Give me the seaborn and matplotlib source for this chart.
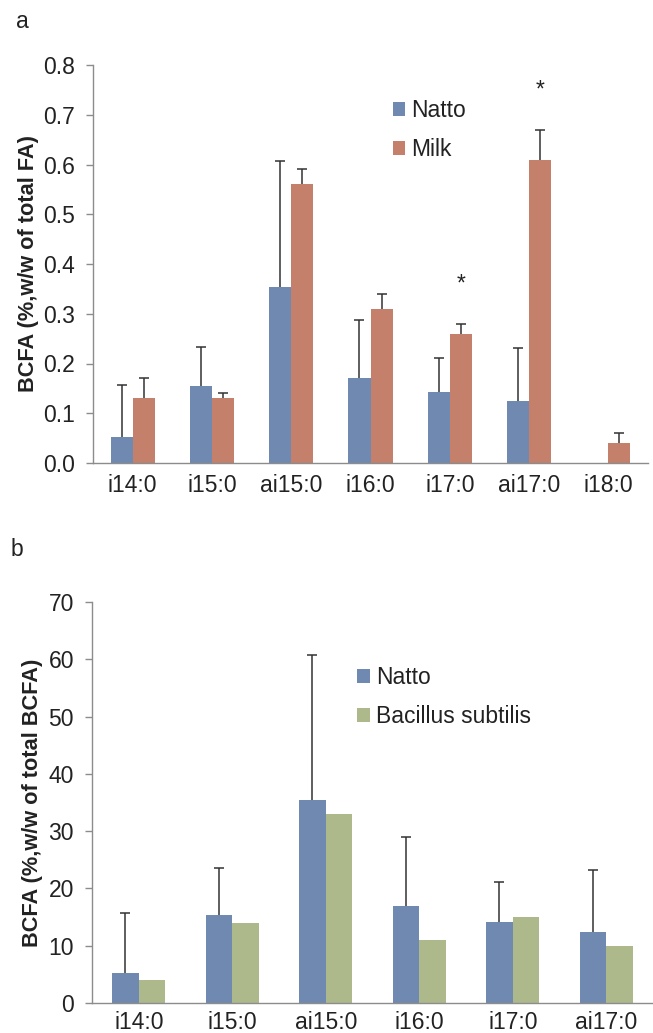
import numpy as np
import pandas as pd
import matplotlib
matplotlib.use('Agg')
import matplotlib.pyplot as plt
import seaborn as sns

sns.set_style('white')
plt.rcParams['font.family'] = ['Liberation Sans', 'DejaVu Sans']

# panel a: BCFA as % of total FA
fa_a = ['i14:0', 'i15:0', 'ai15:0', 'i16:0', 'i17:0', 'ai17:0', 'i18:0']
natto_a = [0.053, 0.154, 0.353, 0.170, 0.142, 0.124, 0.0]
natto_a_err = [0.103, 0.080, 0.254, 0.118, 0.070, 0.108, np.nan]
milk_a = [0.13, 0.13, 0.56, 0.31, 0.26, 0.61, 0.04]
milk_a_err = [0.04, 0.01, 0.03, 0.03, 0.02, 0.06, 0.02]
stars_a = {'i17:0': 0.36, 'ai17:0': 0.75}

# panel b: BCFA as % of total BCFA
fa_b = ['i14:0', 'i15:0', 'ai15:0', 'i16:0', 'i17:0', 'ai17:0']
natto_b = [5.2, 15.4, 35.4, 17.0, 14.2, 12.4]
natto_b_err = [10.5, 8.1, 25.4, 11.9, 7.0, 10.9]
bsub_b = [4.0, 14.0, 33.0, 11.0, 15.0, 10.0]

c_natto = '#7089b0'
c_milk = '#c4806a'
c_bsub = '#adb98a'
spine_c = '#8c8c8c'
txt_c = '#222222'
fs = 16.5
fs_lab = 15.7


def panel(ax, cats, series, names, colors, errs, width, xpad):
    df = pd.DataFrame({
        'FA': cats * len(series),
        'val': np.concatenate(series),
        'grp': np.repeat(names, len(cats)),
    })
    sns.barplot(data=df, x='FA', y='val', hue='grp', palette=colors,
                width=width, errorbar=None, saturation=1, linewidth=0, ax=ax)
    for cont, err in zip(ax.containers, errs):
        if err is None:
            continue
        xs = [p.get_x() + p.get_width() / 2 for p in cont]
        hs = [p.get_height() for p in cont]
        err = np.array(err, dtype=float)
        eb = ax.errorbar(xs, hs, yerr=[np.zeros(len(err)), err], fmt='none',
                         ecolor='#333333', elinewidth=1.1, capsize=3.8, capthick=1.1)
        # only the upper cap, like the original
        eb[1][0].set_visible(False)
    sns.despine(ax=ax)
    for s in ['left', 'bottom']:
        ax.spines[s].set_color(spine_c)
        ax.spines[s].set_linewidth(1.0)
    n = len(cats)
    ax.set_xlim(-0.5, n - 0.5)
    ax.set_xticks(range(n))
    ax.set_xticklabels(cats)
    ax.set_xticks(np.arange(-0.5, n), minor=True)
    ax.tick_params(axis='x', which='major', length=0, pad=xpad, labelsize=fs, labelcolor=txt_c)
    ax.tick_params(axis='x', which='minor', length=6, direction='out', color=spine_c, width=1)
    ax.tick_params(axis='y', length=5, direction='out', color=spine_c, width=1,
                   left=True, pad=8, labelsize=fs, labelcolor=txt_c)
    ax.set_xlabel('')


fig = plt.figure(figsize=(6.53, 10.33), dpi=100)

ax1 = fig.add_axes([93 / 653, 570 / 1033, 555 / 653, 398 / 1033])
panel(ax1, fa_a, [natto_a, milk_a], ['Natto', 'Milk'], [c_natto, c_milk],
      [natto_a_err, milk_a_err], 0.555, 8)
ax1.set_ylim(0, 0.8)
ax1.set_yticks(np.arange(0, 0.81, 0.1))
ax1.set_yticklabels([f'{v:.1f}' for v in np.arange(0, 0.81, 0.1)])
ax1.set_ylabel('BCFA (%,w/w of total FA)', fontsize=fs_lab, fontweight='bold', color=txt_c)
ax1.yaxis.set_label_coords(-0.097, 0.5)
milk_bars = ax1.containers[1]
for cat, yv in stars_a.items():
    p = milk_bars[fa_a.index(cat)]
    ax1.text(p.get_x() + p.get_width() / 2, yv, '*', ha='center', va='center',
             fontsize=fs, color=txt_c)
h, l = ax1.get_legend_handles_labels()
ax1.legend(h, l, loc='upper left', bbox_to_anchor=(0.54, 0.915), frameon=False,
           fontsize=fs, handlelength=0.55, handleheight=0.55, handletextpad=0.25,
           labelspacing=0.7, borderpad=0, borderaxespad=0, labelcolor=txt_c)

ax2 = fig.add_axes([92 / 653, 30 / 1033, 561 / 653, 401 / 1033])
panel(ax2, fa_b, [natto_b, bsub_b], ['Natto', 'Bacillus subtilis'], [c_natto, c_bsub],
      [natto_b_err, None], 0.57, 6)
ax2.set_ylim(0, 70)
ax2.set_yticks(range(0, 71, 10))
ax2.set_ylabel('BCFA (%,w/w of total BCFA)', fontsize=fs_lab, fontweight='bold', color=txt_c)
ax2.yaxis.set_label_coords(-0.087, 0.5)
h, l = ax2.get_legend_handles_labels()
ax2.legend(h, l, loc='upper left', bbox_to_anchor=(0.473, 0.84), frameon=False,
           fontsize=fs, handlelength=0.55, handleheight=0.55, handletextpad=0.25,
           labelspacing=0.7, borderpad=0, borderaxespad=0, labelcolor=txt_c)

fig.text(22 / 653, 1 - 22 / 1033, 'a', fontsize=fs, ha='center', va='center', color=txt_c)
fig.text(17 / 653, 1 - 550 / 1033, 'b', fontsize=fs, ha='center', va='center', color=txt_c)

fig.savefig('out.png', dpi=100)
